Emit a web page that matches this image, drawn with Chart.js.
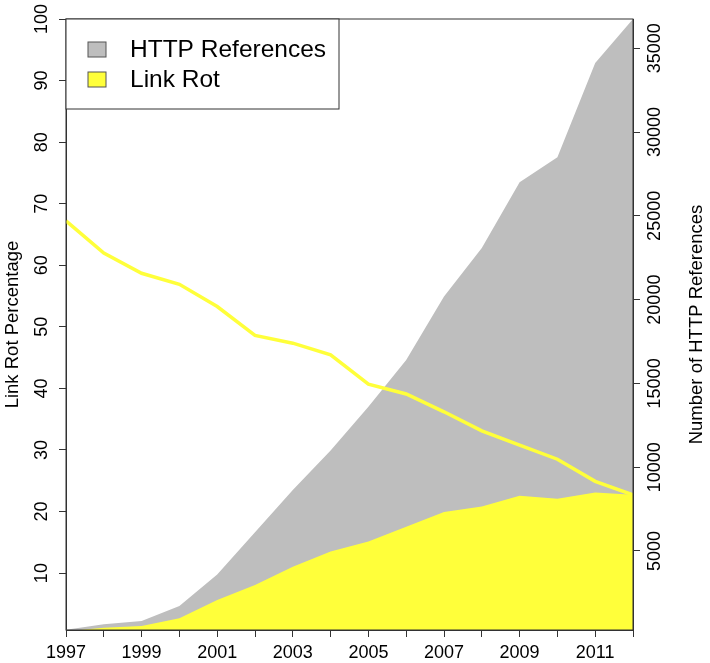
<!DOCTYPE html>
<html>
<head>
<meta charset="utf-8">
<script src="https://cdn.jsdelivr.net/npm/chart.js@4.4.0/dist/chart.umd.min.js"></script>
<style>
  html, body { margin: 0; padding: 0; background: #fff; }
  #wrap { width: 710px; height: 663px; }
</style>
</head>
<body>
<div id="wrap"><canvas id="linkrot" width="710" height="663"></canvas></div>
<script>
// values
var years = [1997, 1998, 1999, 2000, 2001, 2002, 2003, 2004, 2005, 2006, 2007, 2008, 2009, 2010, 2011, 2012];
var httpRefs = [300, 620, 820, 1715, 3600, 6120, 8640, 11000, 13600, 16400, 20180, 23080, 27000, 28500, 34130, 36750];
var rotLinks = [200, 420, 520, 980, 2070, 2970, 4060, 4960, 5560, 6450, 7330, 7650, 8290, 8110, 8480, 8350];
var rotPercent = [67.2, 62.0, 58.7, 56.9, 53.3, 48.6, 47.35, 45.45, 40.7, 39.1, 36.2, 33.1, 30.8, 28.5, 24.9, 22.7];
var refTicks = [5000, 10000, 15000, 20000, 25000, 30000, 35000];
var legendLabels = ['HTTP References', 'Link Rot'];

var GREY = '#bebebe';
var YELLOW = '#ffff3a';
var AXIS = '#333333';

Chart.defaults.font.family = '"Liberation Sans", Arial, Helvetica, sans-serif';
Chart.defaults.color = '#000';

function pts(vals) {
  return years.map(function (y, i) { return { x: y, y: vals[i] }; });
}

// box round the plot, legend and right-hand title, drawn the R way
var extras = {
  id: 'extras',
  afterDraw: function (chart) {
    var ctx = chart.ctx, a = chart.chartArea;
    ctx.save();
    ctx.strokeStyle = AXIS;
    ctx.lineWidth = 1;
    ctx.strokeRect(a.left, a.top, a.right - a.left, a.bottom - a.top);

    // legend
    var lx = a.left, ly = a.top, lw = 273, lh = 90;
    ctx.fillStyle = '#fff';
    ctx.fillRect(lx, ly, lw, lh);
    ctx.strokeRect(lx, ly, lw, lh);
    var fills = [GREY, YELLOW];
    ctx.font = '24.5px "Liberation Sans", Arial, sans-serif';
    ctx.textBaseline = 'middle';
    ctx.textAlign = 'left';
    for (var i = 0; i < legendLabels.length; i++) {
      var cy = ly + 31 + i * 30;
      ctx.fillStyle = fills[i];
      ctx.fillRect(lx + 22, cy - 8, 18, 15);
      ctx.strokeStyle = '#555';
      ctx.strokeRect(lx + 22, cy - 8, 18, 15);
      ctx.fillStyle = '#000';
      ctx.fillText(legendLabels[i], lx + 64, cy);
    }

    // right axis title, reading upwards
    ctx.translate(697, (a.top + a.bottom) / 2);
    ctx.rotate(-Math.PI / 2);
    ctx.textAlign = 'center';
    ctx.font = '18.5px "Liberation Sans", Arial, sans-serif';
    ctx.fillText('Number of HTTP References', 0, 0);
    ctx.restore();
  }
};

var config = {
  type: 'line',
  data: {
    datasets: [{
      label: 'Link Rot Percentage',
      data: pts(rotPercent),
      yAxisID: 'yL',
      borderColor: YELLOW,
      borderWidth: 3.5,
      pointRadius: 0,
      fill: false,
      order: 0
    }, {
      label: legendLabels[1],
      data: pts(rotLinks),
      yAxisID: 'yR',
      borderWidth: 0,
      borderColor: YELLOW,
      backgroundColor: YELLOW,
      pointRadius: 0,
      fill: 'start',
      order: 1
    }, {
      label: legendLabels[0],
      data: pts(httpRefs),
      yAxisID: 'yR',
      borderWidth: 0,
      borderColor: GREY,
      backgroundColor: GREY,
      pointRadius: 0,
      fill: 'start',
      order: 2
    }]
  },
  options: {
    responsive: false,
    animation: false,
    layout: { padding: { top: 19, left: 0, right: 0, bottom: 0 } },
    plugins: {
      legend: { display: false },
      tooltip: { enabled: false }
    },
    scales: {
      x: {
        type: 'linear',
        min: 1997,
        max: 2012,
        afterFit: function (s) { s.height = 33; },
        grid: { drawOnChartArea: false, tickLength: 7, color: AXIS },
        border: { color: AXIS },
        ticks: {
          stepSize: 1,
          autoSkip: false,
          maxRotation: 0,
          padding: 5,
          font: { size: 18 },
          callback: function (v) { return v % 2 ? String(v) : ''; }
        }
      },
      yL: {
        type: 'linear',
        position: 'left',
        min: 0.762,
        max: 100,
        afterFit: function (s) { s.width = 66; },
        grid: { drawOnChartArea: false, tickLength: 7, color: AXIS },
        border: { color: AXIS },
        title: { display: true, text: 'Link Rot Percentage', font: { size: 18.5 }, padding: 2 },
        ticks: {
          stepSize: 10,
          includeBounds: false,
          minRotation: 90,
          maxRotation: 90,
          crossAlign: 'center',
          padding: 2,
          font: { size: 18 },
          callback: function (v) { return String(v); }
        }
      },
      yR: {
        type: 'linear',
        position: 'right',
        min: 280,
        max: 36750,
        afterFit: function (s) { s.width = 77; },
        afterBuildTicks: function (s) {
          s.ticks = refTicks.map(function (v) { return { value: v }; });
        },
        grid: { drawOnChartArea: false, tickLength: 7, color: AXIS },
        border: { color: AXIS },
        ticks: {
          minRotation: 90,
          maxRotation: 90,
          crossAlign: 'center',
          padding: -10,
          font: { size: 18 },
          callback: function (v) { return String(v); }
        }
      }
    }
  },
  plugins: [extras]
};

window.onload = function () {
  var ctx = document.getElementById('linkrot').getContext('2d');
  window.linkChart = new Chart(ctx, config);
};
</script>
</body>
</html>
